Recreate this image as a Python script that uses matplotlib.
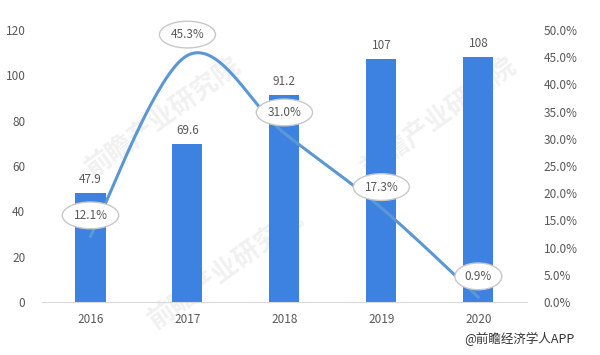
import numpy as np
import matplotlib.pyplot as plt

plt.rcParams['font.family'] = ['Noto Sans CJK SC', 'DejaVu Sans']

years = ["2016", "2017", "2018", "2019", "2020"]
sizes = [47.9, 69.6, 91.2, 107, 108]
growth = [12.1, 45.3, 31.0, 17.3, 0.9]
size_labels = ["47.9", "69.6", "91.2", "107", "108"]
growth_labels = ["12.1%", "45.3%", "31.0%", "17.3%", "0.9%"]

bar_color = "#3d82e0"
line_color = "#5b97d6"
text_color = "#595959"


def smooth(x, y, n=40):
    # catmull-rom style bezier, like excel's smoothed line
    x = np.asarray(x, float)
    y = np.asarray(y, float)
    px = np.concatenate([[x[0]], x, [x[-1]]])
    py = np.concatenate([[y[0]], y, [y[-1]]])
    xs, ys = [], []
    t = np.linspace(0, 1, n)
    for i in range(1, len(px) - 2):
        p0 = np.array([px[i], py[i]])
        p3 = np.array([px[i + 1], py[i + 1]])
        c1 = p0 + (np.array([px[i + 1], py[i + 1]]) - np.array([px[i - 1], py[i - 1]])) / 6
        c2 = p3 - (np.array([px[i + 2], py[i + 2]]) - np.array([px[i], py[i]])) / 6
        b = ((1 - t) ** 3)[:, None] * p0 + (3 * (1 - t) ** 2 * t)[:, None] * c1 \
            + (3 * (1 - t) * t ** 2)[:, None] * c2 + (t ** 3)[:, None] * p3
        xs.extend(b[:, 0])
        ys.extend(b[:, 1])
    return np.array(xs), np.array(ys)


fig = plt.figure(figsize=(6, 3.55), dpi=100)
ax = fig.add_axes([0.07, 0.149, 0.808, 0.767])
x = np.arange(len(years))

# faint watermarks behind the bars
for wx, wy in [(0.25, 0.68), (0.82, 0.68), (0.38, 0.12)]:
    ax.text(wx, wy, "前瞻产业研究院", transform=ax.transAxes, fontsize=19,
            color="#f1f1f1", rotation=36, ha="center", va="center",
            fontweight="bold", zorder=0)

ax.bar(x, sizes, width=0.31, color=bar_color, zorder=2)
for xi, v, lab in zip(x, sizes, size_labels):
    ax.annotate(lab, (xi, v), xytext=(0, 5), textcoords="offset points",
                ha="center", va="bottom", fontsize=8.5, color=text_color)

ax.set_xlim(-0.5, len(years) - 0.5)
ax.set_ylim(0, 120)
ax.set_yticks(range(0, 121, 20))
ax.set_xticks(x)
ax.set_xticklabels(years)

ax2 = ax.twinx()
sx, sy = smooth(x, growth)
ax2.plot(sx, sy, color=line_color, lw=2.2, zorder=3)
ax2.set_ylim(0, 50)
ax2.set_yticks(np.arange(0, 51, 5))
ax2.set_yticklabels([f"{v:.1f}%" for v in np.arange(0, 51, 5)])
for xi, v, lab in zip(x, growth, growth_labels):
    ax2.annotate(lab, (xi, v), xytext=(0, 15), textcoords="offset points",
                 ha="center", va="center", fontsize=8.5, color=text_color,
                 bbox=dict(boxstyle="ellipse,pad=0.25", fc="white",
                           ec="#c8c8c8", lw=1.0))

for a in (ax, ax2):
    for s in a.spines.values():
        s.set_visible(False)
    a.tick_params(length=0, colors=text_color, labelsize=8.5)
ax.spines["bottom"].set_visible(True)
ax.spines["bottom"].set_color("#d9d9d9")
ax.tick_params(axis="x", pad=8)
ax.tick_params(axis="y", pad=12)
ax2.tick_params(axis="y", pad=12)

fig.text(0.958, 0.045, "@前瞻经济学人APP", fontsize=9, color="#333333", ha="right", va="center")

fig.savefig("out.png", dpi=100, facecolor="white")
